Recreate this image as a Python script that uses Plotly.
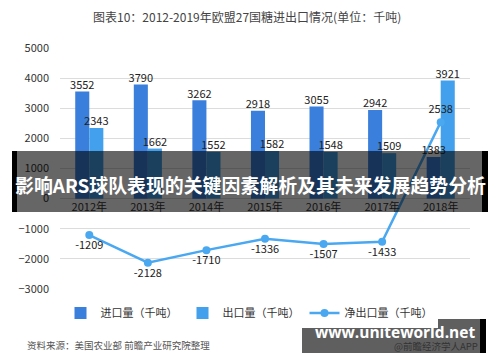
import plotly.graph_objects as go

categories = ["2012年", "2013年", "2014年", "2015年", "2016年", "2017年", "2018年"]
imports = [3552, 3790, 3262, 2918, 3055, 2942, 1383]
exports = [2343, 1662, 1552, 1582, 1548, 1509, 3921]
net_exports = [-1209, -2128, -1710, -1336, -1507, -1433, 2538]
y_ticks = [-3000, -2000, -1000, 0, 1000, 2000, 3000, 4000, 5000]

FONT = "Noto Sans CJK SC, Noto Sans, sans-serif"

# the page body has an 8px default margin; compensate
OFF = 8
# plot area in reference pixels
L, R, T, B = 60, 470, 48, 289
W, H = 500 - OFF, 362 - OFF
def px(x):
    return (x - L) / (R - L)
def py(y):
    return (B - y) / (B - T)

fig = go.Figure()
fig.add_trace(go.Bar(
    x=categories, y=imports, name="进口量（千吨）",
    marker=dict(color="#3B7FDD", line=dict(width=0)),
    offsetgroup="imp", alignmentgroup="g",
))
fig.add_trace(go.Bar(
    x=categories, y=exports, name="出口量（千吨）",
    marker=dict(color="#42A0EC", line=dict(width=0)),
    offsetgroup="exp", alignmentgroup="g",
))
fig.add_trace(go.Scatter(
    x=categories, y=net_exports, name="净出口量（千吨）",
    mode="lines+markers+text",
    line=dict(color="#4AA8F0", width=2.5),
    marker=dict(color="#4AA8F0", size=8),
    text=[str(v) for v in net_exports],
    textposition=["bottom center"] * 6 + ["top center"],
    textfont=dict(size=11, color="#222"), cliponaxis=False,
    offsetgroup="net", alignmentgroup="n",
))
# bar value labels drawn on top of the line
fig.add_trace(go.Scatter(
    x=categories, y=imports, mode="text", text=[str(v) for v in imports],
    textposition="top center", textfont=dict(size=11, color="#222"),
    offsetgroup="imp", alignmentgroup="g", showlegend=False, hoverinfo="skip", cliponaxis=False,
))
fig.add_trace(go.Scatter(
    x=categories, y=exports, mode="text", text=[str(v) for v in exports],
    textposition="top center", textfont=dict(size=11, color="#222"),
    offsetgroup="exp", alignmentgroup="g", showlegend=False, hoverinfo="skip", cliponaxis=False,
))

shapes = [
    # banner overlay
    dict(type="rect", xref="paper", yref="paper", x0=px(12), x1=px(488), y0=py(212), y1=py(151),
         fillcolor="rgba(0,0,0,0.6)", line=dict(width=0), layer="above"),
    dict(type="rect", xref="paper", yref="paper", x0=px(12), x1=px(17), y0=py(212), y1=py(151),
         fillcolor="#000", line=dict(width=0), layer="above"),
    dict(type="rect", xref="paper", yref="paper", x0=px(482), x1=px(488), y0=py(212), y1=py(151),
         fillcolor="#000", line=dict(width=0), layer="above"),
    # watermark box
    dict(type="rect", xref="paper", yref="paper", x0=px(302), x1=px(480), y0=py(353), y1=py(319),
         fillcolor="#5f5f5f", line=dict(width=0), layer="above"),
    dict(type="rect", xref="paper", yref="paper", x0=px(480), x1=px(486), y0=py(353), y1=py(319),
         fillcolor="#000", line=dict(width=0), layer="above"),
]

annotations = [
    dict(text="图表10：2012-2019年欧盟27国糖进出口情况(单位：千吨)", xref="paper", yref="paper",
         x=px(247), y=py(16), xanchor="center", yanchor="middle", showarrow=False,
         font=dict(size=12, color="#444", family=FONT)),
    dict(text="<b>影响ARS球队表现的关键因素解析及其未来发展趋势分析</b>", xref="paper", yref="paper",
         x=px(250), y=py(184), xanchor="center", yanchor="middle", showarrow=False,
         font=dict(size=18.9, color="#fff", family=FONT)),
    dict(text="<b>www.uniteworld.net</b>", xref="paper", yref="paper",
         x=px(395), y=py(332), xanchor="center", yanchor="middle", showarrow=False,
         font=dict(size=15.5, color="#fff", family="Open Sans, DejaVu Sans, sans-serif")),
    dict(text="@前瞻经济学人APP", xref="paper", yref="paper",
         x=px(480), y=py(346), xanchor="right", yanchor="middle", showarrow=False,
         font=dict(size=9.5, color="#333", family=FONT)),
    dict(text="资料来源：美国农业部 前瞻产业研究院整理", xref="paper", yref="paper",
         x=px(25), y=py(345), xanchor="left", yanchor="middle", showarrow=False,
         font=dict(size=9.5, color="#555", family=FONT)),
]

fig.update_layout(
    width=W, height=H,
    margin=dict(l=L - OFF, r=W - (R - OFF), t=T - OFF, b=H - (B - OFF), autoexpand=False),
    paper_bgcolor="#fff", plot_bgcolor="#fff",
    font=dict(family=FONT, size=11, color="#333"),
    barmode="group", bargap=0.52, bargroupgap=0,
    scattermode="group", scattergap=0.52,
    showlegend=True,
    legend=dict(orientation="h", x=px(249), y=py(313), xanchor="center", yanchor="middle",
                font=dict(size=11, color="#333"), itemwidth=30, traceorder="normal"),
    shapes=shapes, annotations=annotations,
    xaxis=dict(anchor="free", position=3000 / 8000, showgrid=False, showline=False,
               ticks="", tickfont=dict(size=11, color="#333"), zeroline=False),
    yaxis=dict(range=[-3000, 5000], tickvals=y_ticks, showgrid=True, gridcolor="#dcdcdc",
               gridwidth=1, zeroline=False, showline=False, ticks="",
               ticklabelstandoff=10, tickfont=dict(size=11, color="#333")),
)

fig.write_html("out.html")
